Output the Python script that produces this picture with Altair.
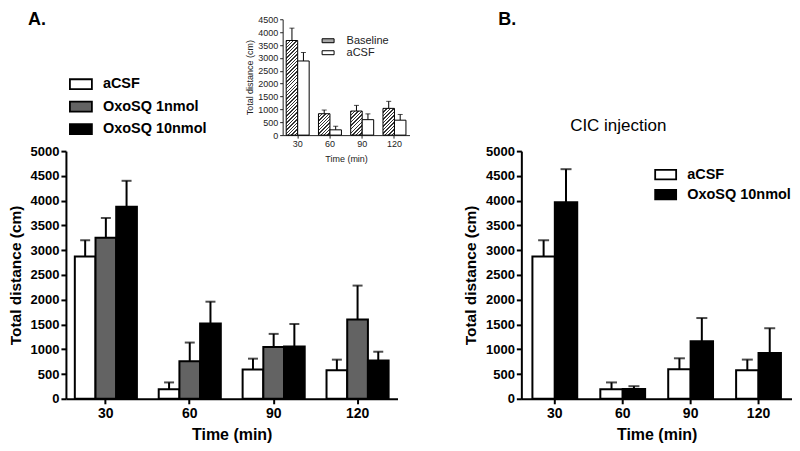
import altair as alt
import pandas as pd

times = ["30", "60", "90", "120"]

# Panel A (main)
a_series = ["aCSF", "OxoSQ 1nmol", "OxoSQ 10nmol"]
a_acsf = [2870, 190, 590, 575]
a_acsf_sem = [330, 140, 220, 215]
a_oxo1 = [3250, 760, 1045, 1600]
a_oxo1_sem = [400, 375, 265, 685]
a_oxo10 = [3875, 1520, 1055, 775]
a_oxo10_sem = [525, 440, 455, 175]

# Panel B
b_series = ["aCSF", "OxoSQ 10nmol"]
b_acsf = [2870, 190, 595, 578]
b_acsf_sem = [330, 140, 222, 213]
b_oxo10 = [3968, 199, 1162, 922]
b_oxo10_sem = [667, 55, 468, 502]

# Inset of panel A
i_series = ["Baseline", "aCSF"]
i_base = [3675, 831, 935, 1039]
i_base_sem = [480, 143, 220, 273]
i_acsf = [2880, 205, 600, 580]
i_acsf_sem = [330, 140, 225, 222]

FONT = "Liberation Sans"


def make_df(names, means, sems):
    rows = []
    for s, m, e in zip(names, means, sems):
        for t, mv, ev in zip(times, m, e):
            rows.append({"time": t, "series": s, "mean": mv, "sem": ev})
    return pd.DataFrame(rows)


def hatch(w, h, spacing=2.4, frac=0.4, dark="#333333", light="#ffffff"):
    k = (w + h) * w * h / (w * w + h * h)
    n = max(1, round((w + h) / (spacing * 2 ** 0.5)))
    stops = []
    for i in range(n):
        a, b, c = i / n, (i + frac) / n, (i + 1) / n
        stops += [{"offset": a, "color": dark}, {"offset": b, "color": dark},
                  {"offset": b, "color": light}, {"offset": c, "color": light}]
    return {"gradient": "linear", "x1": 0, "y1": 0, "x2": k / h, "y2": k / w, "stops": stops}


def main_axes():
    common = dict(labelFontWeight="bold", titleFontWeight="bold", domainWidth=2, tickWidth=2,
                  tickSize=5, domainColor="black", tickColor="black", labelColor="black",
                  titleColor="black", grid=False, labelFont=FONT, titleFont=FONT)
    yax = alt.Axis(orient="left", values=list(range(0, 5001, 500)), format="d",
                   title="Total distance (cm)", labelFontSize=13, titleFontSize=15.5,
                   labelPadding=2, titlePadding=7, **common)
    xax = alt.Axis(orient="bottom", title="Time (min)", labelAngle=0, labelFontSize=14,
                   titleFontSize=16, labelPadding=3, titlePadding=6, **common)
    return xax, yax


def bar_group(df, names, colors, xscale, yscale, xax, yax, legend, sw, cap, fill_cond=None):
    base = alt.Chart(df).transform_calculate(top="datum.mean + datum.sem")
    x = alt.X("time:N", sort=times, scale=xscale, axis=xax)
    xo = alt.XOffset("series:N", sort=names,
                     scale=alt.Scale(domain=names, paddingInner=0, paddingOuter=0))
    y = alt.Y("mean:Q", scale=yscale, axis=yax)
    rule = base.mark_rule(color="black", strokeWidth=sw).encode(x=x, xOffset=xo, y=y, y2="top:Q")
    tick = base.mark_tick(color="black", thickness=sw, size=cap, orient="horizontal").encode(
        x=x, xOffset=xo, y=alt.Y("top:Q", scale=yscale, axis=yax))
    fkw = dict(sort=names, scale=alt.Scale(domain=names, range=colors), legend=legend)
    if fill_cond is not None:
        fkw["condition"] = fill_cond
    bar = base.mark_bar(stroke="black", strokeWidth=sw).encode(
        x=x, xOffset=xo, y=y, fill=alt.Fill("series:N", **fkw))
    return alt.layer(rule, tick, bar)


def label(text, x, y, size, weight="bold", align="left", baseline="middle"):
    return alt.Chart(pd.DataFrame({"t": [text]})).mark_text(
        font=FONT, fontSize=size, fontWeight=weight, align=align, baseline=baseline, color="black"
    ).encode(x=alt.value(x), y=alt.value(y), text="t:N")


# ---------- Panel A ----------
WA, HA = 332, 248
xax, yax = main_axes()
legA = alt.Legend(orient="none", legendX=3, legendY=-79, title=None, padding=0,
                  symbolType="M-1,-0.45H1V0.45H-1Z", symbolSize=484, symbolStrokeColor="black",
                  symbolStrokeWidth=1.8, labelFont=FONT, labelFontSize=14.5, labelFontWeight="bold",
                  labelColor="black", labelOffset=10, rowPadding=1.5)
mainA = bar_group(make_df(a_series, [a_acsf, a_oxo1, a_oxo10], [a_acsf_sem, a_oxo1_sem, a_oxo10_sem]),
                  a_series, ["white", "#636363", "black"],
                  alt.Scale(domain=times, paddingInner=0.26, paddingOuter=0.106),
                  alt.Scale(domain=[0, 5000], nice=False), xax, yax, legA, 2, 10)
mainA = alt.layer(mainA, label("A.", -38, -140, 18, baseline="top"))

# inset
ins_common = dict(labelFontSize=9, titleFontSize=9, labelFontWeight="normal",
                  titleFontWeight="normal", domainWidth=1, tickWidth=1, tickSize=3,
                  domainColor="#222", tickColor="#222", labelColor="#222", titleColor="#222",
                  grid=False, labelFont=FONT, titleFont=FONT)
ins_y = alt.Axis(orient="left", offset=-217, values=list(range(0, 4501, 500)), format="d",
                 title="Total distance (cm)", labelPadding=2, titlePadding=3, **ins_common)
ins_x = alt.Axis(orient="bottom", offset=-264, title="Time (min)", labelAngle=0,
                 labelPadding=1, titlePadding=6, **ins_common)
ins_h = 116.0
ins_bw = 11.5
cond = [{"test": f"datum.series == 'Baseline' && datum.time == '{t}'",
         "value": hatch(ins_bw, v / 4500 * ins_h)} for t, v in zip(times, i_base)]
legI = alt.Legend(orient="none", legendX=256, legendY=-117, title=None, padding=0,
                  symbolType="M-1,-0.33H1V0.33H-1Z", symbolSize=144, symbolStrokeColor="black",
                  symbolStrokeWidth=1, labelFont=FONT, labelFontSize=11, labelColor="#222",
                  labelOffset=12, rowPadding=0)
inset = bar_group(make_df(i_series, [i_base, i_acsf], [i_base_sem, i_acsf_sem]),
                  i_series, ["#a8a8a8", "white"],
                  alt.Scale(domain=times, paddingInner=0.288, paddingOuter=0.11, range=[217, 344]),
                  alt.Scale(domain=[0, 4500], nice=False, range=[-16, -132]),
                  ins_x, ins_y, legI, 1, 5, fill_cond=cond)

panelA = alt.layer(mainA, inset).resolve_scale(
    x="independent", y="independent", xOffset="independent", fill="independent"
).properties(width=WA, height=HA)

# ---------- Panel B ----------
WB, HB = 271, 248
xbx, ybx = main_axes()
legB = alt.Legend(orient="none", legendX=133, legendY=12, title=None, padding=0,
                  symbolType="M-1,-0.45H1V0.45H-1Z", symbolSize=441, symbolStrokeColor="black",
                  symbolStrokeWidth=1.8, labelFont=FONT, labelFontSize=14.5, labelFontWeight="bold",
                  labelColor="black", labelOffset=10, rowPadding=0)
mainB = bar_group(make_df(b_series, [b_acsf, b_oxo10], [b_acsf_sem, b_oxo10_sem]),
                  b_series, ["white", "black"],
                  alt.Scale(domain=times, paddingInner=0.34, paddingOuter=0.163),
                  alt.Scale(domain=[0, 5000], nice=False), xbx, ybx, legB, 2, 11)
panelB = alt.layer(mainB, label("B.", -23, -140, 18, baseline="top"),
                   label("CIC injection", 97, -25, 17, weight="normal", align="center")
                   ).properties(width=WB, height=HB)

chart = alt.hconcat(panelA, panelB, spacing=124, bounds="flush").resolve_scale(
    fill="independent", x="independent", y="independent", xOffset="independent"
).properties(padding={"left": 0, "top": 3, "right": 0, "bottom": 0}).configure(
    font=FONT
).configure_view(stroke=None)

chart.save("out.html", embed_options={"renderer": "svg", "actions": False})
